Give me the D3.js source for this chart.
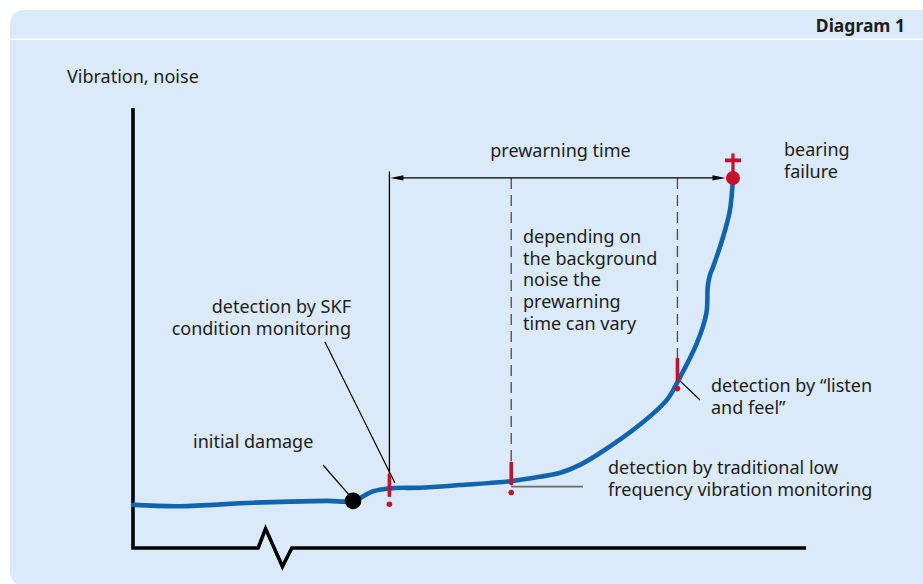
<!DOCTYPE html>
<html>
<head>
<meta charset="utf-8">
<script src="https://cdn.jsdelivr.net/npm/d3@7/dist/d3.min.js"></script>
<style>
  html, body { margin: 0; padding: 0; background: #ffffff; }
  svg { display: block; }
  text { font-family: "Noto Sans", "Open Sans", sans-serif; fill: #1d1d1b; }
</style>
</head>
<body>
<svg id="chart" width="923" height="584"></svg>
<script>
// Vibration level over the bearing's service life (time and level in relative units)
const curveTime  = [0, 7.0, 17.8, 28.8, 32.7, 35.7, 38.6, 42.6, 48.6, 56.2, 60.5, 63.5, 66.4, 69.4, 75.3, 79.3, 81.0, 83.8, 85.2, 85.4, 85.7, 86.2, 87.7, 88.7, 89.15];
const curveLevel = [9.8, 9.5, 10.3, 10.7, 10.7, 12.9, 13.6, 13.7, 14.3, 15.2, 16.2, 17.1, 18.9, 21.6, 28.0, 33.6, 38.0, 46.6, 53.4, 59.4, 61.9, 63.9, 70.8, 76.8, 84.1];

// Key events along the curve
const damageTime = 32.7,  damageLevel = 10.7;
const failureTime = 89.15, failureLevel = 84.1;
const detectNames  = ["skf", "traditional", "listen"];
const detectTimes  = [38.1, 56.2, 80.9];
const detectLevels = [13.4, 16.1, 39.7];

// Texts
const titleText   = "Diagram 1";
const yAxisLabel  = "Vibration, noise";
const spanLabel   = "prewarning time";
const failureLabel = ["bearing", "failure"];
const varyLabel   = ["depending on", "the background", "noise the", "prewarning", "time can vary"];
const skfLabel    = ["detection by SKF", "condition monitoring"];
const damageLabel = ["initial damage"];
const tradLabel   = ["detection by traditional low", "frequency vibration monitoring"];
const listenLabel = ["detection by \u201clisten", "and feel\u201d"];

const W = 923, H = 584;
const FS = "18px";
const svg = d3.select("#chart");

const x = d3.scaleLinear().domain([0, 100]).range([133, 806]);
const y = d3.scaleLinear().domain([0, 100]).range([548, 108]);

const blue = "#1064af", red = "#c8102e", panel = "#daeaf8";

// Panel with header strip
svg.append("rect").attr("x", 10).attr("y", 10).attr("width", 940).attr("height", 576)
  .attr("rx", 14).attr("fill", panel);
svg.append("line").attr("x1", 10).attr("x2", W).attr("y1", 39.3).attr("y2", 39.3)
  .attr("stroke", "#ffffff").attr("stroke-width", 1.6);
svg.append("text").attr("x", 905).attr("y", 32).attr("text-anchor", "end")
  .style("font-weight", 700).style("font-size", "17.5px").text(titleText);

// Axes: vertical axis and a broken horizontal axis
const axisG = svg.append("g").attr("fill", "none").attr("stroke", "#000")
  .attr("stroke-width", 3.6).attr("stroke-linejoin", "miter");
axisG.append("path").attr("d", d3.line()([
  [x(0), y(100)], [x(0), y(0)], [x(18.6), y(0)], [x(19.7), y(4.4)],
  [x(22.2), y(-4.2)], [x(23.6), y(0)], [x(100), y(0)]
]));

svg.append("text").attr("x", 67).attr("y", 83).style("font-size", FS).text(yAxisLabel);

// Reference lines for the prewarning span
const thin = svg.append("g").attr("fill", "none");
const xs = detectTimes.map(x);
const yArrow = y(failureLevel);
thin.append("line").attr("x1", xs[0]).attr("x2", xs[0])
  .attr("y1", yArrow - 6.5).attr("y2", y(detectLevels[0]) - 14)
  .attr("stroke", "#000").attr("stroke-width", 1.3);
[1, 2].forEach(i => {
  thin.append("line").attr("x1", xs[i]).attr("x2", xs[i])
    .attr("y1", yArrow).attr("y2", y(detectLevels[i]) - 15)
    .attr("stroke", "#4a4a4a").attr("stroke-width", 1.3)
    .attr("stroke-dasharray", "11,6");
});

// Double-headed arrow for the prewarning time
const xA0 = xs[0] + 1, xA1 = x(failureTime) - 7.5;
thin.append("line").attr("x1", xA0 + 8).attr("x2", xA1 - 8)
  .attr("y1", yArrow).attr("y2", yArrow).attr("stroke", "#000").attr("stroke-width", 1.2);
svg.append("path").attr("fill", "#000").attr("d",
  `M${xA0},${yArrow} L${xA0 + 13},${yArrow - 2.6} L${xA0 + 13},${yArrow + 2.6} Z` +
  `M${xA1},${yArrow} L${xA1 - 13},${yArrow - 2.6} L${xA1 - 13},${yArrow + 2.6} Z`);
svg.append("text").attr("x", (xs[0] + xA1) / 2 + 3).attr("y", 157).attr("text-anchor", "middle")
  .style("font-size", FS).text(spanLabel);

// Leader lines
thin.append("line").attr("x1", 323).attr("y1", 465).attr("x2", x(damageTime) - 4).attr("y2", y(damageLevel) - 6)
  .attr("stroke", "#000").attr("stroke-width", 1.2);
thin.append("line").attr("x1", 325).attr("y1", 342).attr("x2", xs[0] + 5.5).attr("y2", y(detectLevels[0]) - 6)
  .attr("stroke", "#000").attr("stroke-width", 1.2);
thin.append("line").attr("x1", xs[2] + 1).attr("y1", y(detectLevels[2]) + 6).attr("x2", 700).attr("y2", 400)
  .attr("stroke", "#000").attr("stroke-width", 1.2);
thin.append("line").attr("x1", xs[1]).attr("x2", 583)
  .attr("y1", y(detectLevels[1]) + 9.5).attr("y2", y(detectLevels[1]) + 9.5)
  .attr("stroke", "#6b6b6b").attr("stroke-width", 1.6);

// Vibration curve
const pts = curveTime.map((t, i) => [x(t), y(curveLevel[i])]);
svg.append("path").datum(pts).attr("fill", "none").attr("stroke", blue)
  .attr("stroke-width", 4.6).attr("stroke-linecap", "round")
  .attr("d", d3.line().curve(d3.curveCatmullRom.alpha(0.5)));

// Initial damage point
svg.append("circle").attr("cx", x(damageTime)).attr("cy", y(damageLevel)).attr("r", 8.3).attr("fill", "#000");

// Detection marks ("!")
detectTimes.forEach((t, i) => {
  const cx = x(t), cy = y(detectLevels[i]);
  const g = svg.append("g").attr("class", "mark-" + detectNames[i]);
  g.append("rect").attr("x", cx - 1.8).attr("y", cy - 15.5).attr("width", 3.6).attr("height", 23.5)
    .attr("rx", 1).attr("fill", red);
  g.append("circle").attr("cx", cx).attr("cy", cy + 15.3).attr("r", 2.8).attr("fill", red);
});

// Bearing failure point with cross
const fx = x(failureTime), fy = y(failureLevel);
svg.append("circle").attr("cx", fx).attr("cy", fy).attr("r", 7).attr("fill", red);
svg.append("rect").attr("x", fx - 1.6).attr("y", fy - 24.5).attr("width", 3.2).attr("height", 19).attr("fill", red);
svg.append("rect").attr("x", fx - 8).attr("y", fy - 19.5).attr("width", 16).attr("height", 3.8).attr("fill", red);

// Multi-line labels
function label(lines, xPos, yFirst, anchor) {
  const t = svg.append("text").attr("text-anchor", anchor || "start").style("font-size", FS);
  lines.forEach((s, i) => t.append("tspan").attr("x", xPos).attr("y", yFirst + i * 21.7).text(s));
}
label(failureLabel, 784, 156);
label(varyLabel, 523, 243);
label(skfLabel, 351, 313, "end");
label(damageLabel, 193, 448);
label(tradLabel, 608, 474);
label(listenLabel, 711, 392);
</script>
</body>
</html>
